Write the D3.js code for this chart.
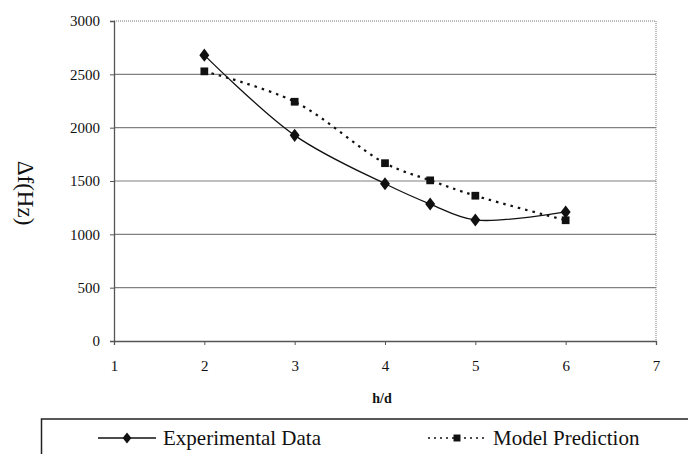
<!DOCTYPE html>
<html><head><meta charset="utf-8">
<script src="https://cdn.jsdelivr.net/npm/d3@7"></script>
</head><body style="margin:0;background:#fff">
<svg id="c" width="688" height="454" style="display:block"></svg>
<script>
const xValues = [2, 3, 4, 4.5, 5, 6];
const experimental = [2680, 1928, 1474, 1284, 1135, 1210];
const model = [2528, 2243, 1667, 1506, 1362, 1132];
const xTicks = [1, 2, 3, 4, 5, 6, 7];
const yTicks = [0, 500, 1000, 1500, 2000, 2500, 3000];
const seriesNames = ["Experimental Data", "Model Prediction"];

const FONT = "Liberation Serif";
const svg = d3.select("#c").attr("font-family", FONT).style("font-family", "'Liberation Serif'");
const L = 114, R = 656, T = 21, B = 341;
const x = d3.scaleLinear().domain([1, 7]).range([L, R]);
const y = d3.scaleLinear().domain([0, 3000]).range([B, T]);

function txt(sel, size, weight) {
  return sel.attr("font-family", FONT).style("font-family", "'Liberation Serif'")
    .attr("font-size", size).style("font-size", size + "px")
    .attr("font-weight", weight || "normal").attr("fill", "#111");
}

// gridlines
svg.append("g").selectAll("line").data(yTicks.filter(d => d > 0 && d < 3000)).join("line")
  .attr("x1", L).attr("x2", R).attr("y1", d => y(d)).attr("y2", d => y(d))
  .attr("stroke", "#808080").attr("stroke-width", 1.2);
// top & right dotted border
svg.append("path").attr("d", `M${L},${T}H${R}V${B}`).attr("fill", "none")
  .attr("stroke", "#777").attr("stroke-width", 1).attr("stroke-dasharray", "1,1");

// axes
const yAxis = d3.axisLeft(y).tickValues(yTicks).tickSize(4).tickPadding(10).tickFormat(d3.format("d"));
const gy = svg.append("g").attr("transform", `translate(${L},0)`).call(yAxis);
const xAxis = d3.axisBottom(x).tickValues(xTicks).tickSize(4).tickPadding(15).tickFormat(d3.format("d"));
const gx = svg.append("g").attr("transform", `translate(0,${B})`).call(xAxis);
[gx, gy].forEach(g => {
  g.attr("font-family", FONT).attr("font-size", 15);
  g.select(".domain").attr("stroke", "#555").attr("stroke-width", 1.3);
  g.selectAll(".tick line").attr("stroke", "#555");
  txt(g.selectAll("text"), 15);
});

// axis titles
txt(svg.append("text").attr("x", 382).attr("y", 403).attr("text-anchor", "middle"), 14, "bold").text("h/d");
txt(svg.append("text").attr("transform", "translate(18,193) rotate(90)").attr("text-anchor", "middle"), 23).text("Δf(Hz)");

// lines
const line = d3.line().x(d => x(d[0])).y(d => y(d[1])).curve(d3.curveCatmullRom.alpha(0.5));
const expPts = xValues.map((v, i) => [v, experimental[i]]);
const modPts = xValues.map((v, i) => [v, model[i]]);
svg.append("path").attr("d", line(modPts)).attr("fill", "none").attr("stroke", "#111")
  .attr("stroke-width", 2.2).attr("stroke-dasharray", "2.5,5");
svg.append("path").attr("d", line(expPts)).attr("fill", "none").attr("stroke", "#111").attr("stroke-width", 1.3);

const diamond = d3.symbol().type(d3.symbolDiamond).size(55);
const square = d3.symbol().type(d3.symbolSquare).size(60);
svg.append("g").selectAll("path").data(modPts).join("path")
  .attr("transform", d => `translate(${x(d[0])},${y(d[1])})`).attr("d", square).attr("fill", "#111");
svg.append("g").selectAll("path").data(expPts).join("path")
  .attr("transform", d => `translate(${x(d[0])},${y(d[1])}) scale(1.25,0.95)`).attr("d", diamond).attr("fill", "#111");

// legend
svg.append("rect").attr("x", 41.5).attr("y", 419).attr("width", 700).attr("height", 60)
  .attr("fill", "none").attr("stroke", "#222").attr("stroke-width", 1.5);
const ly = 438;
svg.append("line").attr("x1", 98).attr("x2", 156).attr("y1", ly).attr("y2", ly).attr("stroke", "#111").attr("stroke-width", 1.3);
svg.append("path").attr("transform", `translate(127,${ly}) scale(1.1,0.8)`).attr("d", diamond).attr("fill", "#111");
txt(svg.append("text").attr("x", 163).attr("y", 445), 21).text(seriesNames[0]);
svg.append("line").attr("x1", 428).attr("x2", 485).attr("y1", ly).attr("y2", ly).attr("stroke", "#111")
  .attr("stroke-width", 1.3).attr("stroke-dasharray", "2,4");
svg.append("path").attr("transform", `translate(457,${ly}) scale(0.9,0.9)`).attr("d", square).attr("fill", "#111");
txt(svg.append("text").attr("x", 493).attr("y", 445), 21).text(seriesNames[1]);
</script>
</body></html>
